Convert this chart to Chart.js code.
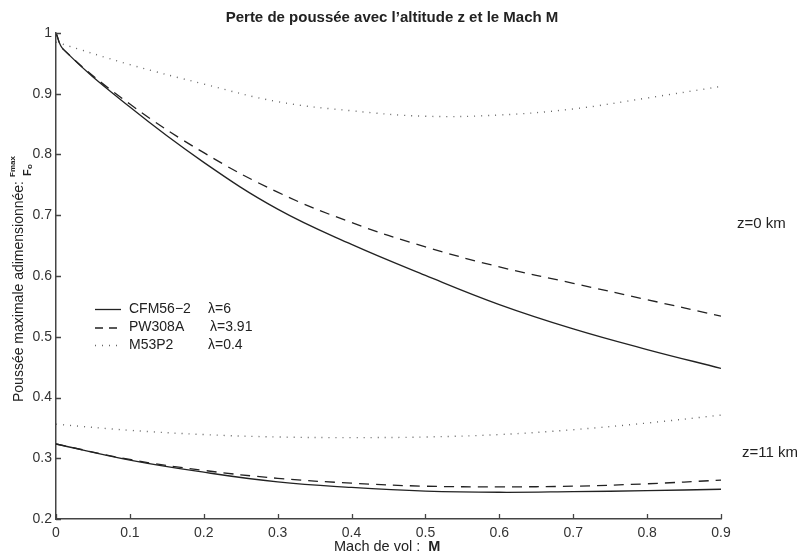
<!DOCTYPE html>
<html>
<head>
<meta charset="utf-8">
<script src="https://cdn.jsdelivr.net/npm/chart.js@4.4.1/dist/chart.umd.min.js"></script>
<style>
  body { margin: 0; background: #fff; }
</style>
</head>
<body>
<canvas id="thrustChart" width="799" height="558"></canvas>
<script>
(function () {
	"use strict";

	// Mach numbers (the sea-level turbofan curves have an extra point near M=0)
	var mach = [0, 0.1, 0.2, 0.3, 0.4, 0.5, 0.6, 0.7, 0.8, 0.9];
	var machSea = [0, 0.01, 0.1, 0.2, 0.3, 0.4, 0.5, 0.6, 0.7, 0.8, 0.9];

	// z = 0 km
	var cfmSea = [1.0, 0.973, 0.878, 0.787, 0.710, 0.652, 0.601, 0.553, 0.513, 0.479, 0.448];
	var pwSea = [1.0, 0.973, 0.883, 0.803, 0.738, 0.688, 0.648, 0.615, 0.588, 0.561, 0.534];
	var m53Sea = [0.985, 0.948, 0.916, 0.887, 0.872, 0.863, 0.865, 0.875, 0.893, 0.912];

	// z = 11 km
	var cfmAlt = [0.3235, 0.297, 0.277, 0.261, 0.252, 0.246, 0.244, 0.245, 0.2466, 0.249];
	var pwAlt = [0.3235, 0.298, 0.280, 0.267, 0.259, 0.254, 0.253, 0.254, 0.258, 0.264];
	var m53Alt = [0.356, 0.346, 0.339, 0.335, 0.334, 0.335, 0.339, 0.347, 0.358, 0.371];

	var engines = ["CFM56\u22122", "PW308A", "M53P2"];
	var lambdas = ["\u03bb=6", "\u03bb=3.91", "\u03bb=0.4"];
	var lambdaX = [208, 210, 208];

	var FONT = '"Liberation Sans", Arial, Helvetica, sans-serif';
	var INK = "#222";

	var styles = [
		{ borderColor: "#222", borderWidth: 1.3, borderDash: [] },
		{ borderColor: "#222", borderWidth: 1.3, borderDash: [10, 7] },
		{ borderColor: "#666", borderWidth: 1.4, borderDash: [1, 6] }
	];

	function pts(xs, ys) {
		return xs.map(function (x, i) { return { x: x, y: ys[i] }; });
	}

	function series(label, xs, ys, s) {
		return {
			label: label,
			data: pts(xs, ys),
			borderColor: s.borderColor,
			borderWidth: s.borderWidth,
			borderDash: s.borderDash,
			pointRadius: 0,
			fill: false,
			tension: 0.4
		};
	}

	// ticks pointing into the plot, plus all the text around it
	var decor = {
		id: "decor",
		afterDatasetsDraw: function (chart) {
			var c = chart.ctx, a = chart.chartArea;
			var sx = chart.scales.x, sy = chart.scales.y;
			c.save();
			c.strokeStyle = "#444";
			c.lineWidth = 1.3;
			c.beginPath();
			sx.ticks.forEach(function (t) {
				var px = Math.round(sx.getPixelForValue(t.value)) + 0.5;
				c.moveTo(px, a.bottom);
				c.lineTo(px, a.bottom - 5);
			});
			sy.ticks.forEach(function (t) {
				var py = Math.round(sy.getPixelForValue(t.value)) + 0.5;
				c.moveTo(a.left, py);
				c.lineTo(a.left + 5, py);
			});
			c.stroke();
			c.restore();
		},
		afterDraw: function (chart) {
			var c = chart.ctx;
			c.save();
			c.fillStyle = INK;
			c.textBaseline = "middle";

			// title
			c.font = "bold 15px " + FONT;
			c.textAlign = "center";
			c.fillText("Perte de pouss\u00e9e avec l\u2019altitude z et le Mach M", 392, 18);

			// x axis title, "M" in bold
			c.textAlign = "left";
			c.font = "14.5px " + FONT;
			var xt = "Mach de vol :  ";
			var w1 = c.measureText(xt).width;
			c.fillText(xt, 334, 547);
			c.font = "bold 14.5px " + FONT;
			c.fillText("M", 334 + w1, 547);

			// y axis title with the Fmax / Fo fraction
			c.save();
			c.translate(19, 402);
			c.rotate(-Math.PI / 2);
			c.font = "14px " + FONT;
			var yt = "Pouss\u00e9e maximale adimensionn\u00e9e:";
			var w2 = c.measureText(yt).width;
			c.fillText(yt, 0, 0);
			c.font = "bold 8px " + FONT;
			c.fillText("Fmax", w2 + 4, -6);
			c.font = "bold 11px " + FONT;
			c.fillText("F", w2 + 5, 9);
			c.font = "bold 8px " + FONT;
			c.fillText("o", w2 + 12, 11);
			c.restore();

			// altitude annotations
			c.font = "15px " + FONT;
			c.fillText("z=0 km", 737, 224);
			c.fillText("z=11 km", 742, 453);

			// legend
			var rows = [309, 327.5, 345];
			rows.forEach(function (y, i) {
				var s = styles[i];
				c.save();
				c.strokeStyle = s.borderColor;
				c.lineWidth = s.borderWidth;
				c.setLineDash(i === 1 ? [8, 6] : s.borderDash);
				c.beginPath();
				c.moveTo(95, y + 0.5);
				c.lineTo(121, y + 0.5);
				c.stroke();
				c.restore();
				c.font = "14px " + FONT;
				c.fillText(engines[i], 129, y);
				c.fillText(lambdas[i], lambdaX[i], y);
			});
			c.restore();
		}
	};

	var ctx = document.getElementById("thrustChart");
	new Chart(ctx, {
		type: "line",
		data: {
			datasets: [
				series("CFM56-2 z=0", machSea, cfmSea, styles[0]),
				series("PW308A z=0", machSea, pwSea, styles[1]),
				series("M53P2 z=0", mach, m53Sea, styles[2]),
				series("CFM56-2 z=11", mach, cfmAlt, styles[0]),
				series("PW308A z=11", mach, pwAlt, styles[1]),
				series("M53P2 z=11", mach, m53Alt, styles[2])
			]
		},
		options: {
			responsive: false,
			animation: false,
			layout: { padding: { top: 33, right: 78, left: 0, bottom: 0 } },
			plugins: {
				legend: { display: false },
				title: { display: false },
				tooltip: { enabled: false }
			},
			scales: {
				x: {
					type: "linear",
					min: 0,
					max: 0.9,
					afterFit: function (s) { s.height = 39; },
					grid: { drawOnChartArea: false, drawTicks: false },
					border: { color: "#444", width: 1.5 },
					ticks: {
						stepSize: 0.1,
						padding: 6,
						color: "#333",
						font: { family: FONT, size: 14 },
						callback: function (v) { return String(Math.round(v * 10) / 10); }
					}
				},
				y: {
					min: 0.2,
					max: 1,
					afterFit: function (s) { s.width = 56; },
					grid: { drawOnChartArea: false, drawTicks: false },
					border: { color: "#444", width: 1.5 },
					ticks: {
						stepSize: 0.1,
						padding: 4,
						color: "#333",
						font: { family: FONT, size: 14 },
						callback: function (v) { return String(Math.round(v * 10) / 10); }
					}
				}
			}
		},
		plugins: [decor]
	});
})();
</script>
</body>
</html>
